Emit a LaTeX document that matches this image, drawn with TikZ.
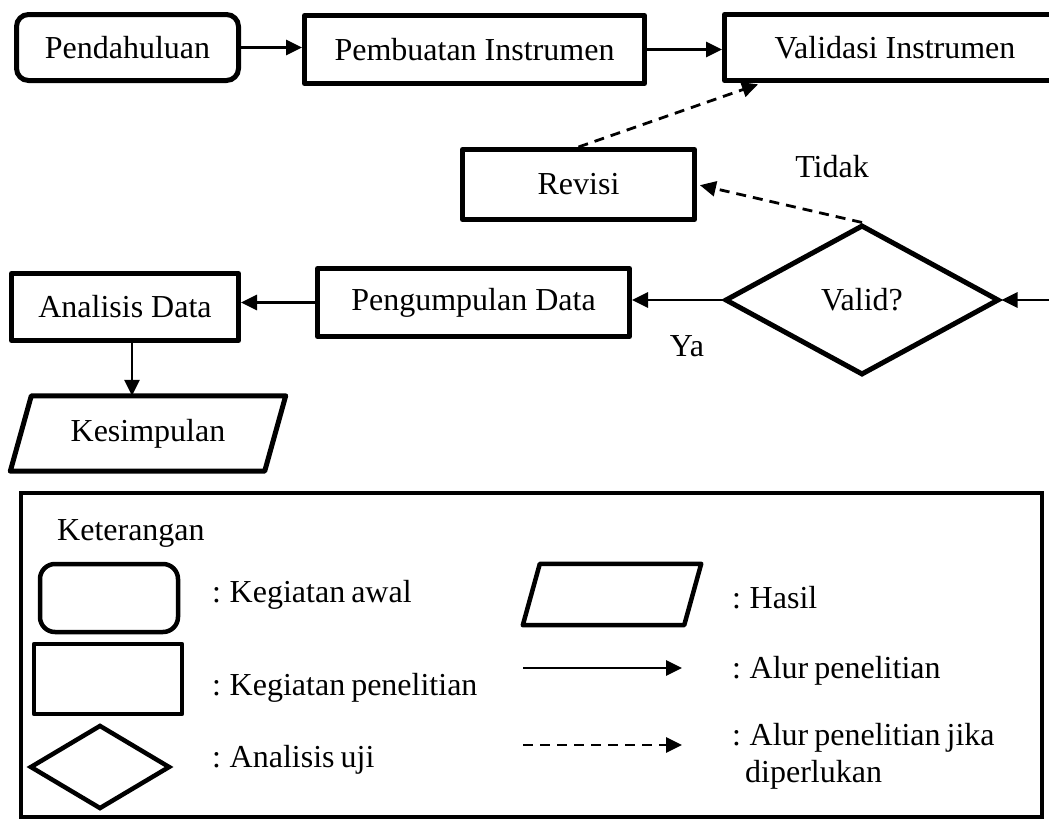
\documentclass[tikz,border=0pt]{standalone}
\usepackage{fontspec}
\setmainfont{Liberation Serif}
\usetikzlibrary{calc}
\usetikzlibrary{shapes.geometric}
\usetikzlibrary{arrows.meta}
\newcommand{\hurufket}{\fontsize{32}{38}\selectfont\spaceskip=6pt\relax}
\tikzset{
  garis/.style={draw=black, line width=5pt, line join=round},
  kotak/.style={garis, inner sep=0pt},
  awal/.style={kotak, rounded corners=12pt},
  uji/.style={diamond, draw=black, line width=5pt, inner sep=0pt},
  hasil/.style={inner sep=0pt},
  alur/.style={-{Triangle[length=16pt,width=15pt]}, line width=2.8pt},
  alurjika/.style={alur, dash pattern=on 10pt off 7pt},
  teks/.style={anchor=base west, inner sep=0pt, font=\hurufket}
}

\begin{document}
\begin{tikzpicture}[x=1pt, y=-1pt, font=\fontsize{32}{38}\selectfont]
\useasboundingbox (0,0) rectangle (1049,819);
\clip (0,0) rectangle (1049,819);

\node[awal, minimum width=222pt, minimum height=66pt] (pend) at (127.5,47.5) {Pendahuluan};
\node[kotak, minimum width=340pt, minimum height=68pt] (buat) at (474.5,49.5) {Pembuatan Instrumen};
\node[kotak, minimum width=341pt, minimum height=66pt] (validasi) at (895,47.5) {Validasi Instrumen};
\node[kotak, minimum width=232pt, minimum height=70pt] (revisi) at (578.5,184.5) {Revisi};
\node[uji, minimum width=274pt, minimum height=150pt] (valid) at (862,300) {Valid?};
\node[kotak, minimum width=312pt, minimum height=68pt] (kumpul) at (473.5,302.5) {Pengumpulan Data};
\node[kotak, minimum width=227pt, minimum height=67pt] (analisis) at (125,307) {Analisis Data};
\node[hasil, minimum width=254pt, minimum height=75pt] (simpul) at (148,433.5) {Kesimpulan};
\draw[garis] ([xshift=10.5pt]simpul.north west) -- ([xshift=10.5pt]simpul.north east)
  -- ([xshift=-10.5pt]simpul.south east) -- ([xshift=-10.5pt]simpul.south west) -- cycle;

\node (tidak) at (832,167) {Tidak};
\node (ya) at (687,346) {Ya};

\draw[alur] (pend.east) -- (pend.east -| buat.west);
\draw[alur] (buat.east) -- (buat.east -| validasi.west);
\draw[alurjika, shorten >=4pt] (revisi.north) -- ($(validasi.south west)!0.115!(validasi.south east)$);
\draw[alurjika, shorten >=3pt] (valid.north) -- (revisi.east);
\coordinate (masuk) at (1060,300);
\draw[alur] (masuk) -- (valid.east);
\draw[alur] (valid.west) -- (valid.west -| kumpul.east);
\draw[alur] (kumpul.west) -- (kumpul.west -| analisis.east);
\coordinate (turun) at ([xshift=7pt]analisis.south);
\draw[alur] (turun) -- (turun |- simpul.north);

% keterangan
\draw[line width=3.5pt] (21,493) rectangle (1042,817);
\node[teks] (ket) at (57,540) {Keterangan};
\node[awal, line width=4.5pt, rounded corners=15pt, minimum width=138pt, minimum height=68pt] (lgawal) at (109,598) {};
\node[kotak, line width=4.5pt, minimum width=148pt, minimum height=70pt] (lgkotak) at (108,679) {};
\node[uji, line width=4.5pt, minimum width=140pt, minimum height=84pt] (lguji) at (100,767) {};
\node[hasil, minimum width=161pt, minimum height=61pt] (lghasil) at (612,594.5) {};
\draw[garis, line width=4.5pt] ([xshift=8.5pt]lghasil.north west) -- ([xshift=8.5pt]lghasil.north east)
  -- ([xshift=-8.5pt]lghasil.south east) -- ([xshift=-8.5pt]lghasil.south west) -- cycle;
\coordinate (lgalur1) at (523,668);
\coordinate (lgalur2) at (682,668);
\draw[alur] (lgalur1) -- (lgalur2);
\coordinate (lgjika1) at (523,745);
\coordinate (lgjika2) at (682,745);
\draw[alurjika] (lgjika1) -- (lgjika2);

\node[teks] (tawal) at (212,602) {: Kegiatan awal};
\node[teks] (tkotak) at (212,695) {: Kegiatan penelitian};
\node[teks] (tuji) at (212,767) {: Analisis uji};
\node[teks] (thasil) at (732,608) {: Hasil};
\node[teks] (talur) at (732,678) {: Alur penelitian};
\node[teks] (tjika) at (732,745) {: Alur penelitian jika};
\node[teks] (tjika2) at (745,782) {diperlukan};

\end{tikzpicture}
\end{document}
